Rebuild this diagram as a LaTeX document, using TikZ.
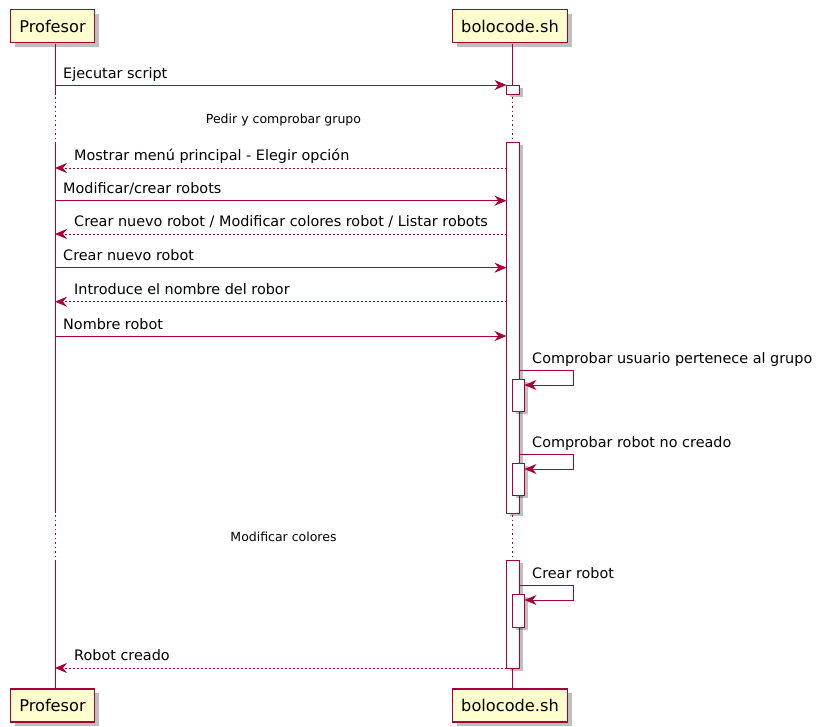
\documentclass[tikz,border=0pt]{standalone}
\usepackage{fontspec}
\setmainfont{DejaVu Sans}
\usetikzlibrary{arrows.meta,shadows}
\definecolor{umlred}{HTML}{A80036}
\definecolor{umlfill}{HTML}{FEFECE}

\begin{document}
\begin{tikzpicture}[x=1pt, y=-1pt,
  participant/.style={draw=umlred, line width=1.5pt, fill=umlfill, minimum height=33pt,
    inner sep=0pt, text=black, font=\fontsize{16.2}{19}\selectfont,
    drop shadow={shadow xshift=4pt, shadow yshift=-4pt, opacity=0.25, fill=black}},
  life/.style={draw=umlred, line width=1pt},
  gap/.style={draw=umlred, line width=1pt, dash pattern=on 1.5pt off 3pt},
  bar/.style={draw=umlred, line width=1pt, fill=white,
    drop shadow={shadow xshift=3pt, shadow yshift=-3pt, opacity=0.25, fill=black}},
  call/.style={draw=umlred, line width=1pt, -{Stealth[length=12pt,width=10pt,inset=4pt]}},
  reply/.style={call, dash pattern=on 2pt off 2pt},
  msglabel/.style={anchor=base west, inner sep=0pt, text=black, font=\fontsize{14.4}{17}\selectfont},
  delaylabel/.style={anchor=base, inner sep=0pt, text=black, font=\fontsize{12.5}{15}\selectfont},
]
\useasboundingbox[fill=white] (0,0) rectangle (819,726);

% participants, head and foot
\node[participant, minimum width=84pt]  (profTop) at (52.5,26)  {Profesor};
\node[participant, minimum width=115pt] (boloTop) at (510,26)   {bolocode.sh};
\node[participant, minimum width=84pt]  (profBot) at (52.5,705.5) {Profesor};
\node[participant, minimum width=115pt] (boloBot) at (510,705.5) {bolocode.sh};

% lifeline of Profesor
\draw[life] (55,43.5) -- (55,95);
\draw[gap]  (55,97) -- (55,141);
\draw[life] (55,142) -- (55,513);
\draw[gap]  (55,515) -- (55,558);
\draw[life] (55,560) -- (55,688);

% lifeline of bolocode.sh
\draw[life] (512.5,43.5) -- (512.5,85);
\draw[gap]  (512.5,97) -- (512.5,141);
\draw[gap]  (512.5,515) -- (512.5,558);
\draw[life] (512.5,668) -- (512.5,688);

% activation bars
\draw[bar] (506.5,85) rectangle (519.5,94);
\draw[bar] (506.5,142) rectangle (519.5,513);
\draw[bar] (512.5,379) rectangle (524.5,411);
\draw[bar] (512.5,463) rectangle (524.5,495);
\draw[bar] (506.5,560) rectangle (519.5,668);
\draw[bar] (512.5,594) rectangle (524.5,627);

% end points of the messages on both lifelines
\foreach \n/\y in {m1/85, m2/168, m3/200.7, m4/234, m5/267.7, m6/301.7, m7/336, m8/668} {
  \coordinate (p\n) at (55,\y);
  \coordinate (b\n) at (506.5,\y);
}

% messages
\draw[call]  (pm1) -- (bm1);
\node[msglabel] (l1) at ([shift={(8,-7)}]pm1) {Ejecutar script};

\draw[reply] (bm2) -- (pm2);
\node[msglabel] (l2) at ([shift={(19,-7.5)}]pm2) {Mostrar menú principal - Elegir opción};

\draw[call]  (pm3) -- (bm3);
\node[msglabel] (l3) at ([shift={(8,-7)}]pm3) {Modificar/crear robots};

\draw[reply] (bm4) -- (pm4);
\node[msglabel] (l4) at ([shift={(19,-7.5)}]pm4) {Crear nuevo robot / Modificar colores robot / Listar robots};

\draw[call]  (pm5) -- (bm5);
\node[msglabel] (l5) at ([shift={(8,-7)}]pm5) {Crear nuevo robot};

\draw[reply] (bm6) -- (pm6);
\node[msglabel] (l6) at ([shift={(19,-7.5)}]pm6) {Introduce el nombre del robor};

\draw[call]  (pm7) -- (bm7);
\node[msglabel] (l7) at ([shift={(8,-7)}]pm7) {Nombre robot};

\draw[reply] (bm8) -- (pm8);
\node[msglabel] (l8) at ([shift={(19,-7.5)}]pm8) {Robot creado};

% self calls of bolocode.sh
\coordinate (s1a) at (519.5,370);
\coordinate (s1b) at (524.5,385);
\draw[call] (s1a) -- (573,370) -- (573,385) -- (s1b);
\node[msglabel] (ls1) at (532,363) {Comprobar usuario pertenece al grupo};

\coordinate (s2a) at (519.5,454);
\coordinate (s2b) at (524.5,469);
\draw[call] (s2a) -- (573,454) -- (573,469) -- (s2b);
\node[msglabel] (ls2) at (532,447) {Comprobar robot no creado};

\coordinate (s3a) at (519.5,585);
\coordinate (s3b) at (524.5,600);
\draw[call] (s3a) -- (573,585) -- (573,600) -- (s3b);
\node[msglabel] (ls3) at (532,578) {Crear robot};

% delay labels
\node[delaylabel] (d1) at (283.5,123) {Pedir y comprobar grupo};
\node[delaylabel] (d2) at (283.5,541) {Modificar colores};
\end{tikzpicture}
\end{document}
